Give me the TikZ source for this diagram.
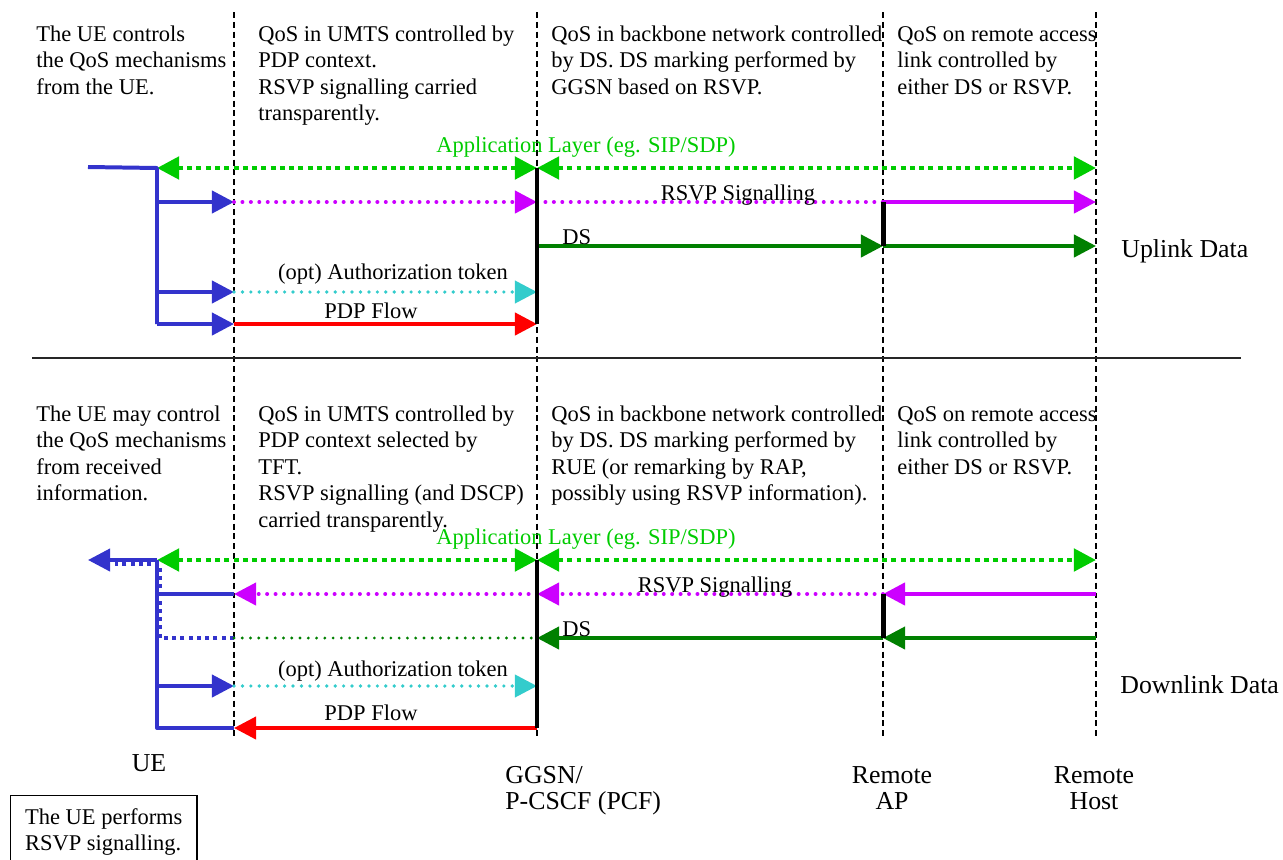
\documentclass[tikz,border=0pt]{standalone}
\usepackage{fontspec}
\setmainfont{Liberation Serif}
\usetikzlibrary{arrows.meta}
\definecolor{appgreen}{HTML}{00CC00}
\definecolor{uebl}{HTML}{3333CC}
\definecolor{rsvpm}{HTML}{CC00FF}
\definecolor{dsg}{HTML}{008000}
\definecolor{tokc}{HTML}{33CCCC}
\definecolor{pdpr}{HTML}{FF0000}
\newcommand{\mlines}[1]{\begin{tabular}[t]{@{}l@{}}#1\end{tabular}}
\newcommand{\clines}[1]{\begin{tabular}[t]{@{}c@{}}#1\end{tabular}}
\begin{document}
\begin{tikzpicture}[x=0.02cm,y=-0.02cm,
  >={Triangle[length=12.6pt,width=12.6pt]},
  txt/.style={inner sep=0pt, font=\fontsize{12.8pt}{15.15pt}\selectfont},
  big/.style={inner sep=0pt, font=\fontsize{14.7pt}{15.3pt}\selectfont},
  lane/.style={black, line width=0.75pt, dash pattern=on 3.4pt off 2.2pt},
  sepline/.style={black!85, line width=0.85pt},
  bar/.style={black, line width=2.83pt},
  appl/.style={appgreen, line width=2.65pt, dash pattern=on 2.83pt off 2.44pt},
  uel/.style={uebl, line width=2.27pt, line join=round},
  uedot/.style={uebl, line width=2.27pt, dash pattern=on 2.3pt off 2.4pt},
  rsvpl/.style={rsvpm, line width=2.4pt},
  rsvpdot/.style={rsvpm, line width=2.27pt, line cap=round, dash pattern=on 0pt off 4.8pt},
  dsl/.style={dsg, line width=2.27pt},
  dsdot/.style={dsg, line width=1.8pt, line cap=round, dash pattern=on 0pt off 4.7pt},
  tokdot/.style={tokc, line width=2.1pt, line cap=round, dash pattern=on 0pt off 4.8pt},
  pdpl/.style={pdpr, line width=2.27pt},
  notebox/.style={draw, black, line width=0.7pt, inner xsep=0.29cm, inner ysep=0.2cm, anchor=north west, font=\fontsize{12.8pt}{15.15pt}\selectfont}
]
\useasboundingbox (0,0) rectangle (1283,859);
% columns
\coordinate (cU) at (157,0);
\coordinate (cU2) at (160,0);
\coordinate (cA) at (234,0);
\coordinate (cG) at (537,0);
\coordinate (cR) at (883,0);
\coordinate (cH) at (1096,0);
% rows
\coordinate (top) at (0,12);
\coordinate (bot) at (0,740);
\coordinate (uApp) at (0,168);
\coordinate (uRsvp) at (0,202);
\coordinate (uDs) at (0,246);
\coordinate (uTok) at (0,292);
\coordinate (uPdp) at (0,324);
\coordinate (lApp) at (0,560);
\coordinate (lApp2) at (0,564);
\coordinate (lRsvp) at (0,594);
\coordinate (lDs) at (0,638);
\coordinate (lTok) at (0,686);
\coordinate (lPdp) at (0,728);
\coordinate (ueU) at (88,167);
\coordinate (ueL) at (88,560);
\coordinate (ueDot) at (115,564);
\coordinate (sepL) at (32,358);
\coordinate (sepR) at (1241,358);

% lanes
\foreach \c in {cA,cG,cR,cH} \draw[lane] (\c |- top) -- (\c |- bot);
\draw[sepline] (sepL) -- (sepR);

% column texts upper
\node[txt, anchor=base west] (t1) at (36,41) {\mlines{The UE controls\\the QoS mechanisms\\from the UE.}};
\node[txt, anchor=base west] (t2) at (258,41) {\mlines{QoS in UMTS controlled by\\PDP context.\\RSVP signalling carried\\transparently.}};
\node[txt, anchor=base west] (t3) at (551,41) {\mlines{QoS in backbone network controlled\\by DS. DS marking performed by\\GGSN based on RSVP.}};
\node[txt, anchor=base west] (t4) at (897,41) {\mlines{QoS on remote access\\link controlled by\\either DS or RSVP.}};
% column texts lower
\node[txt, anchor=base west] (b1) at (36,421) {\mlines{The UE may control\\the QoS mechanisms\\from received\\information.}};
\node[txt, anchor=base west] (b2) at (258,421) {\mlines{QoS in UMTS controlled by\\PDP context selected by\\TFT.\\RSVP signalling (and DSCP)\\carried transparently.}};
\node[txt, anchor=base west] (b3) at (551,421) {\mlines{QoS in backbone network controlled\\by DS. DS marking performed by\\RUE (or remarking by RAP,\\possibly using RSVP information).}};
\node[txt, anchor=base west] (b4) at (897,421) {\mlines{QoS on remote access\\link controlled by\\either DS or RSVP.}};

% ===== Uplink =====
\draw[appl,<->] (cU |- uApp) -- (cG |- uApp);
\draw[appl,<->] (cG |- uApp) -- (cH |- uApp);
\node[txt, anchor=base, appgreen] (uappl) at (586,152) {Application Layer (eg. SIP/SDP)};
\draw[uel] (ueU) -- (cU |- uApp) -- (cU |- uPdp);
\draw[uel,->] (cU |- uRsvp) -- (cA |- uRsvp);
\draw[uel,->] (cU |- uTok) -- (cA |- uTok);
\draw[uel,->] (cU |- uPdp) -- (cA |- uPdp);
\draw[rsvpdot,->] (cA |- uRsvp) -- (cG |- uRsvp);
\draw[rsvpdot] (cG |- uRsvp) -- (cR |- uRsvp);
\draw[rsvpl,->] (cR |- uRsvp) -- (cH |- uRsvp);
\node[txt, anchor=base] (ursvpl) at (738,200) {RSVP Signalling};
\draw[dsl,->] (cG |- uDs) -- (cR |- uDs);
\draw[dsl,->] (cR |- uDs) -- (cH |- uDs);
\node[txt, anchor=base west] (udsl) at (562,244) {DS};
\draw[tokdot,->] (cA |- uTok) -- (cG |- uTok);
\node[txt, anchor=base] (utokl) at (393,279) {(opt) Authorization token};
\draw[pdpl,->] (cA |- uPdp) -- (cG |- uPdp);
\node[txt, anchor=base] (upfl) at (371,318) {PDP Flow};
\draw[bar] (cG |- uApp) -- (cG |- uPdp);
\draw[bar] (cR |- uRsvp) -- (cR |- uDs);
\node[big, anchor=base west] (upl) at (1121,257) {Uplink Data};

% ===== Downlink =====
\draw[appl,<->] (cU |- lApp) -- (cG |- lApp);
\draw[appl,<->] (cG |- lApp) -- (cH |- lApp);
\node[txt, anchor=base, appgreen] (lappl) at (586,544) {Application Layer (eg. SIP/SDP)};
\draw[uedot] (cA |- lDs) -- (cU2 |- lDs) -- (cU2 |- lApp2) -- (ueDot);
\draw[uel,->] (cU |- lApp) -- (ueL);
\draw[uel] (cU |- lApp) -- (cU |- lPdp) -- (cA |- lPdp);
\draw[uel] (cU |- lRsvp) -- (cA |- lRsvp);
\draw[uel,->] (cU |- lTok) -- (cA |- lTok);
\draw[rsvpl,->] (cH |- lRsvp) -- (cR |- lRsvp);
\draw[rsvpdot,->] (cR |- lRsvp) -- (cG |- lRsvp);
\draw[rsvpdot,->] (cG |- lRsvp) -- (cA |- lRsvp);
\node[txt, anchor=base] (lrsvpl) at (715,592) {RSVP Signalling};
\draw[dsl,->] (cH |- lDs) -- (cR |- lDs);
\draw[dsl,->] (cR |- lDs) -- (cG |- lDs);
\draw[dsdot] (cA |- lDs) -- (cG |- lDs);
\node[txt, anchor=base west] (ldsl) at (562,636) {DS};
\draw[tokdot,->] (cA |- lTok) -- (cG |- lTok);
\node[txt, anchor=base] (ltokl) at (393,676) {(opt) Authorization token};
\draw[pdpl,->] (cG |- lPdp) -- (cA |- lPdp);
\node[txt, anchor=base] (lpfl) at (371,720) {PDP Flow};
\draw[bar] (cG |- lApp) -- (cG |- lPdp);
\draw[bar] (cR |- lRsvp) -- (cR |- lDs);
\node[big, anchor=base west] (dnl) at (1120,693) {Downlink Data};

% ===== Bottom labels =====
\node[big, anchor=base] (ue) at (149,771) {UE};
\node[big, anchor=base west] (ggsn) at (505,783) {\mlines{GGSN/\\P-CSCF (PCF)}};
\node[big, anchor=base] (rap) at (892,783) {\clines{Remote\\AP}};
\node[big, anchor=base] (rhost) at (1094,783) {\clines{Remote\\Host}};
\node[notebox] (note) at (10,795) {\mlines{The UE performs\\RSVP signalling.}};
\end{tikzpicture}
\end{document}
